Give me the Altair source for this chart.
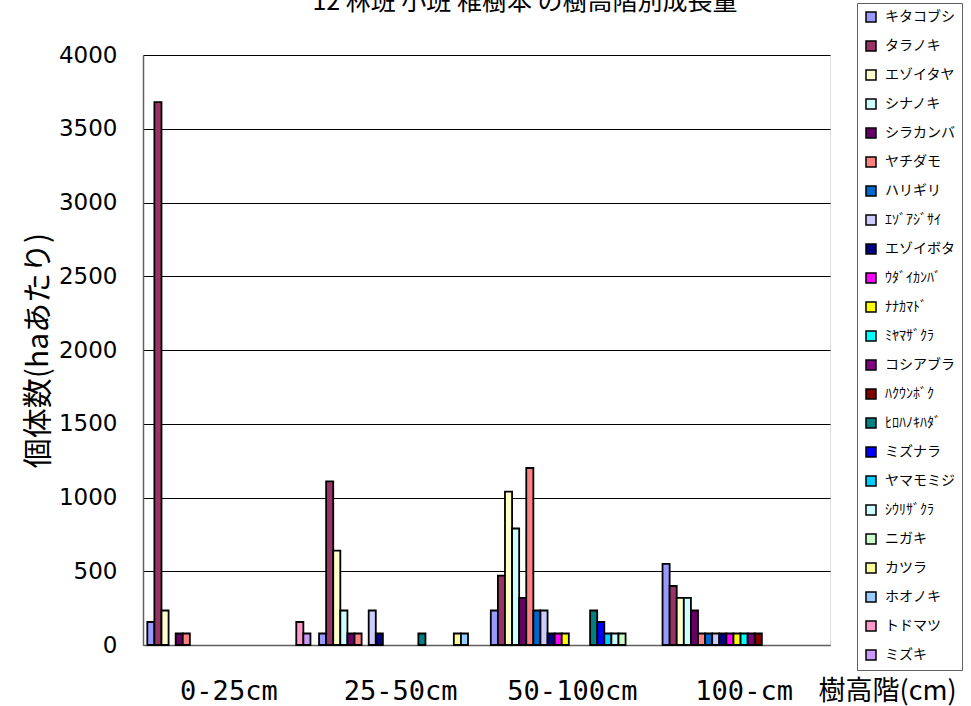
import altair as alt
import pandas as pd

title_text = ["12 林班 小班  稚樹本 の樹高階別成長量"]

categories = ["0-25cm", "25-50cm", "50-100cm", "100-cm"]

species = [
    "キタコブシ", "タラノキ", "エゾイタヤ", "シナノキ", "シラカンバ", "ヤチダモ",
    "ハリギリ", "ｴｿﾞｱｼﾞｻｲ", "エゾイボタ", "ｳﾀﾞｲｶﾝﾊﾞ", "ﾅﾅｶﾏﾄﾞ", "ﾐﾔﾏｻﾞｸﾗ",
    "コシアブラ", "ﾊｸｳﾝﾎﾞｸ", "ﾋﾛﾊﾉｷﾊﾀﾞ", "ミズナラ", "ヤマモミジ", "ｼｳﾘｻﾞｸﾗ",
    "ニガキ", "カツラ", "ホオノキ", "トドマツ", "ミズキ",
]

colors = [
    "#9999FF", "#993366", "#FFFFCC", "#CCFFFF", "#660066", "#FF8080",
    "#0066CC", "#CCCCFF", "#000080", "#FF00FF", "#FFFF00", "#00FFFF",
    "#800080", "#800000", "#008080", "#0000FF", "#00CCFF", "#CCFFFF",
    "#CCFFCC", "#FFFF99", "#99CCFF", "#FF99CC", "#CC99FF",
]

# values per species for [0-25cm, 25-50cm, 50-100cm, 100-cm]
values = [
    [156, 78, 234, 550],
    [3680, 1110, 470, 400],
    [234, 640, 1040, 320],
    [0, 234, 790, 320],
    [78, 78, 320, 234],
    [78, 78, 1200, 78],
    [0, 0, 234, 78],
    [0, 234, 234, 78],
    [0, 78, 78, 78],
    [0, 0, 78, 78],
    [0, 0, 78, 78],
    [0, 0, 0, 78],
    [0, 0, 0, 78],
    [0, 0, 0, 78],
    [0, 78, 234, 0],
    [0, 0, 156, 0],
    [0, 0, 78, 0],
    [0, 0, 78, 0],
    [0, 0, 78, 0],
    [0, 78, 0, 0],
    [0, 78, 0, 0],
    [156, 0, 0, 0],
    [78, 0, 0, 0],
]

y_ticks = [0, 500, 1000, 1500, 2000, 2500, 3000, 3500, 4000]

rows = []
for s, vals in zip(species, values):
    for c, v in zip(categories, vals):
        rows.append({"cat": c, "sp": s, "v": v})
df = pd.DataFrame(rows)

W, H = 687, 590
PL, PT = 143, 55

bars = (
    alt.Chart(df)
    .transform_filter("datum.v > 0")
    .mark_bar(stroke="black", strokeWidth=1.8)
    .encode(
        x=alt.X(
            "cat:N",
            sort=categories,
            scale=alt.Scale(paddingInner=0.05, paddingOuter=0.025),
            axis=alt.Axis(
                title="樹高階(cm)",
                titleFont="Noto Sans CJK JP",
                titleFontSize=27,
                titleFontWeight="normal",
                titleColor="black",
                titleX=675,
                titleY=46,
                titleAlign="left",
                titleBaseline="middle",
                labelFont="DejaVu Sans Mono",
                labelFontSize=27,
                labelColor="black",
                labelAngle=0,
                labelPadding=33,
                ticks=False,
                domainColor="#606060",
                domainWidth=1.5,
            ),
        ),
        xOffset=alt.XOffset("sp:N", sort=species, scale=alt.Scale(domain=species, paddingInner=0, paddingOuter=0)),
        y=alt.Y(
            "v:Q",
            scale=alt.Scale(domain=[0, 4000], nice=False),
            axis=alt.Axis(
                values=y_ticks,
                format="d",
                title="個体数(haあたり)",
                titleFont="Noto Sans CJK JP",
                titleFontSize=30,
                titleFontWeight="normal",
                titleColor="black",
                titleX=-105,
                titleY=295,
                titleAlign="center",
                titleBaseline="middle",
                labelFont="DejaVu Sans",
                labelFontSize=23,
                labelColor="black",
                labelPadding=26,
                ticks=False,
                grid=True,
                gridColor="black",
                gridWidth=1,
                domainColor="#606060",
                domainWidth=1.5,
            ),
        ),
        color=alt.Color(
            "sp:N",
            sort=species,
            scale=alt.Scale(domain=species, range=colors),
            legend=alt.Legend(
                title=None,
                orient="none",
                legendX=714,
                legendY=-52,
                symbolType="square",
                symbolSize=100,
                symbolStrokeColor="black",
                symbolStrokeWidth=1.5,
                labelFont="Noto Sans CJK JP",
                labelFontSize=14,
                labelColor="black",
                labelOffset=7,
                rowPadding=13,
                padding=7,
                strokeColor="#606060",
                fillColor="white",
                labelLimit=200,
            ),
        ),
    )
)

title = (
    alt.Chart(pd.DataFrame({"t": title_text}))
    .mark_text(
        font="Noto Sans CJK JP",
        fontSize=25,
        color="black",
        align="center",
        baseline="bottom",
    )
    .encode(x=alt.value(382), y=alt.value(-40), text="t:N")
)

chart = (
    alt.layer(bars, title)
    .properties(
        width=W,
        height=H,
        autosize=alt.AutoSizeParams(type="none"),
        padding={"left": PL, "top": PT, "right": 971 - PL - W, "bottom": 706 - PT - H},
    )
    .configure_view(stroke="#808080", strokeWidth=1.5)
    .configure(background="white")
)

chart.save("out.html", embed_options={"renderer": "svg", "actions": False})
